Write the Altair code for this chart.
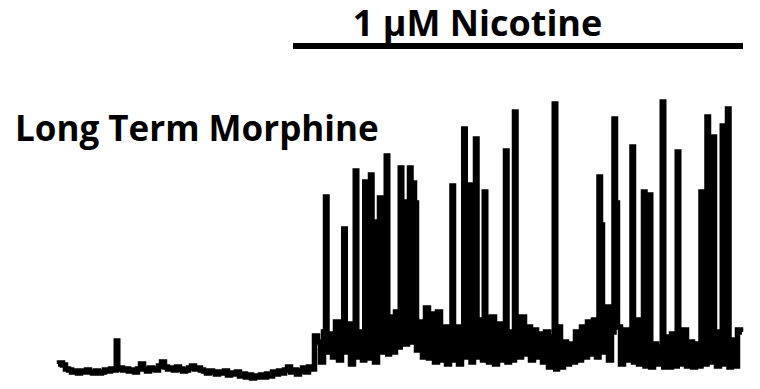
import altair as alt
import pandas as pd

# Fluorescence trace (arbitrary units), sampled every STEP seconds from t = 0
STEP = 3
base_values = [
    8, 9, 7, 3, 2, 0, 1, -1, 1, 0,
    2, 0, -1, 1, -1, 0, 2, 1, 3, 2,
    3, 4, 2, 3, 1, 2, 0, 3, 8, 3,
    1, 4, 3, 2, 6, 10, 5, 3, 4, 2,
    5, 3, 1, 2, 4, 6, 3, 4, 2, 1,
    -1, 1, 0, -2, 0, -1, 1, -3, -1, -2,
    0, -4, -2, -5, -3, -6, -4, -5, -3, -5,
    -2, -4, 0, -2, 1, -1, 2, 5, 0, 2,
    -2, 1, 4, 0, 5, 3,
    36, 30, 10, 40, 20, 38, 15, 50, 12, 40,
    20, 48, 8, 42, 15, 40, 12, 38, 14, 150,
    10, 55, 20, 52, 18, 55, 20, 60, 25, 170,
    28, 62, 30, 169, 22, 50, 15, 64, 14, 58,
    10, 60, 12, 45, 8, 38, 12, 45, 8, 35,
    15, 50, 10, 48, 15, 52, 12, 54, 10, 55,
    8, 48, 12, 45, 10, 40, 12, 50, 15, 55,
    18, 45, 12, 42, 15, 38, 10, 40, 5, 35,
    3, 45, 5, 30, 8, 28, 10, 40, 12, 45,
    15, 50, 18, 52, 15, 147, 20, 65, 12, 40,
    169, 45, 8, 42, 12, 35, 10, 52, 8, 40,
    6, 38, 5, 28, 8, 25, 5, 35, 5, 38,
    6, 40, 8, 42, 6, 30, 5, 28, 6, 30,
    8, 35, 10, 38, 6, 40, 8, 30, 5, 32,
    6, 42, 40,
]

# Transient spikes (time in s, peak value)
spike_times = [59.5, 268, 286.5, 297.5, 307.5, 313, 322, 329.5, 342.5, 352,
               356, 395, 406.5, 412, 418, 426.5, 448, 457, 497.5, 542,
               557, 575, 586, 591.5, 605.5, 620.5, 644, 650, 656, 665.5, 670]
spike_peaks = [31, 175, 143, 201, 190, 197, 174, 216, 204, 204,
               189, 186, 243, 187, 233, 180, 221, 260, 268, 195,
               253, 225, 180, 177, 270, 220, 180, 255, 235, 246, 263]

# Annotations
drug_label = "1 \u00b5M Nicotine"
drug_start, drug_end, drug_level = 235, 685, 326
drug_label_pos = (419.5, 336)
condition_label = "Long Term Morphine"
condition_label_pos = (-43, 231)

base_t = [i * STEP for i in range(len(base_values))]
rows = [(t, v, 0) for t, v in zip(base_t, base_values)] + \
       [(t, v, 1) for t, v in zip(spike_times, spike_peaks)]
rows.sort(key=lambda r: (r[0], r[2]))
trace = pd.DataFrame(rows, columns=["t", "v", "kind"])
trace["seq"] = range(len(trace))

xs = alt.Scale(domain=[-50, 694], nice=False, zero=False)
ys = alt.Scale(domain=[-9, 364], nice=False, zero=False)

line = alt.Chart(trace).mark_line(
    color="black", strokeWidth=5.5, interpolate="step"
).encode(
    x=alt.X("t:Q", scale=xs, axis=None),
    y=alt.Y("v:Q", scale=ys, axis=None),
    order="seq:Q",
)

bar_df = pd.DataFrame({"t": [drug_start], "t2": [drug_end], "v": [drug_level]})
bar = alt.Chart(bar_df).mark_rule(color="black", strokeWidth=6).encode(
    x=alt.X("t:Q", scale=xs, axis=None),
    x2="t2:Q",
    y=alt.Y("v:Q", scale=ys, axis=None),
)

nic_df = pd.DataFrame({"t": [drug_label_pos[0]], "v": [drug_label_pos[1]], "text": [drug_label]})
mor_df = pd.DataFrame({"t": [condition_label_pos[0]], "v": [condition_label_pos[1]], "text": [condition_label]})

nic_text = alt.Chart(nic_df).mark_text(
    font="Open Sans", fontWeight="bold", fontSize=36, color="black",
    align="center", baseline="alphabetic",
).encode(x=alt.X("t:Q", scale=xs, axis=None), y=alt.Y("v:Q", scale=ys, axis=None), text="text:N")
mor_text = alt.Chart(mor_df).mark_text(
    font="Open Sans", fontWeight="bold", fontSize=35, color="black",
    align="left", baseline="alphabetic",
).encode(x=alt.X("t:Q", scale=xs, axis=None), y=alt.Y("v:Q", scale=ys, axis=None), text="text:N")

chart = alt.layer(line, bar, nic_text, mor_text).properties(
    width=744, height=373, padding=0, autosize="none", background="white"
).configure_view(stroke=None)

chart.save("out.html", embed_options={"renderer": "svg", "actions": False})
